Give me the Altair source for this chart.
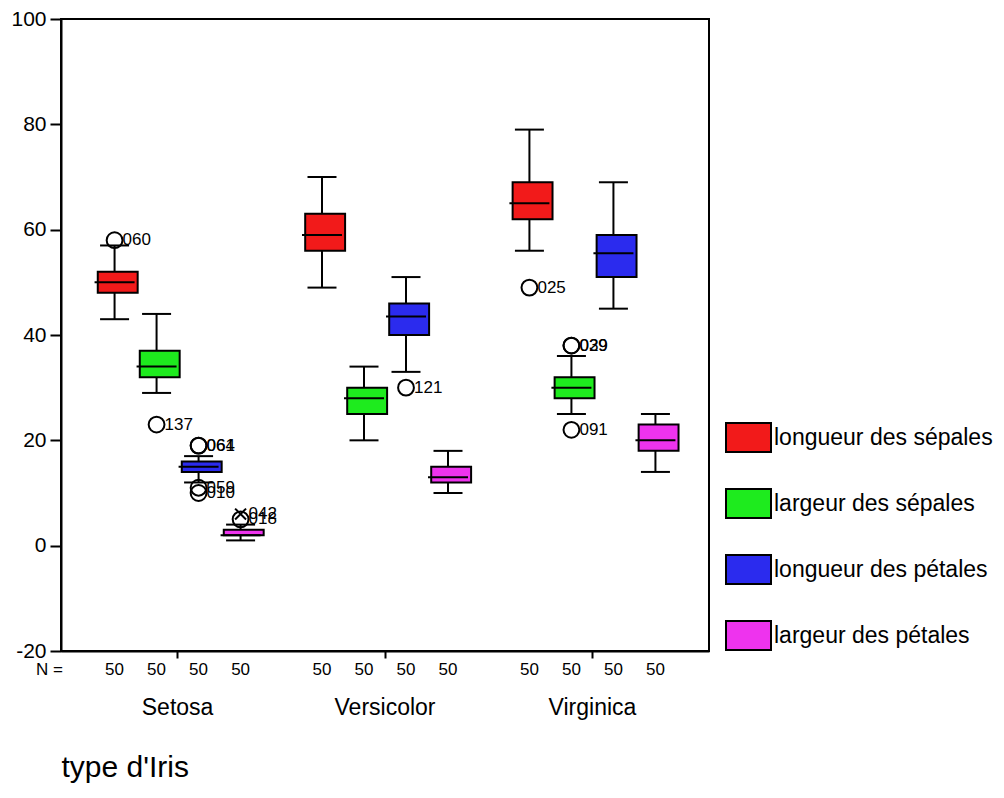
import altair as alt
import pandas as pd

# ---------------- data ----------------
species = ["Setosa", "Versicolor", "Virginica"]
variables = ["longueur des sépales", "largeur des sépales",
             "longueur des pétales", "largeur des pétales"]
colors = ["#F21A1A", "#1EEB1E", "#2B2BEE", "#EE33EE"]

lower_whisker = [[43, 29, 12, 1], [49, 20, 33, 10], [56, 25, 45, 14]]
q1_values = [[48, 32, 14, 2], [56, 25, 40, 12], [62, 28, 51, 18]]
medians = [[50, 34, 15, 2], [59, 28, 43.5, 13], [65, 30, 55.5, 20]]
q3_values = [[52, 37, 16, 3], [63, 30, 46, 15], [69, 32, 59, 23]]
upper_whisker = [[57, 44, 17, 4], [70, 34, 51, 18], [79, 36, 69, 25]]
counts = [[50, 50, 50, 50], [50, 50, 50, 50], [50, 50, 50, 50]]

out_species = ["Setosa", "Setosa", "Setosa", "Setosa", "Setosa", "Setosa",
               "Setosa", "Setosa", "Versicolor", "Virginica", "Virginica",
               "Virginica", "Virginica"]
out_variable = [0, 1, 2, 2, 2, 2, 3, 3, 2, 0, 1, 1, 1]
out_value = [58, 23, 19, 19, 11, 10, 5, 6, 30, 49, 38, 38, 22]
out_label = ["060", "137", "061", "064", "059", "010", "018", "042",
             "121", "025", "029", "039", "091"]
out_kind = ["o", "o", "o", "o", "o", "o", "o", "x", "o", "o", "o", "o", "o"]

FONT = "Liberation Sans"

# ---------------- tables ----------------
rows = []
for i, s in enumerate(species):
    for j, v in enumerate(variables):
        rows.append(dict(species=s, variable=v, lo=lower_whisker[i][j],
                         q1=q1_values[i][j], med=medians[i][j],
                         q3=q3_values[i][j], hi=upper_whisker[i][j],
                         n=str(counts[i][j])))
box_df = pd.DataFrame(rows)

out_df = pd.DataFrame(dict(species=out_species,
                           variable=[variables[k] for k in out_variable],
                           value=out_value, label=out_label, kind=out_kind))

W, H = 648, 632

x_enc = alt.X("species:N",
              scale=alt.Scale(domain=species, paddingInner=0.19, paddingOuter=0.157),
              axis=alt.Axis(labelAngle=0, tickSize=7, tickWidth=2, tickColor="black",
                            domainColor="black", domainWidth=2,
                            labelPadding=38, labelFontSize=23, labelFont=FONT,
                            labelColor="black",
                            titleFontSize=30, titleFont=FONT, titleFontWeight="normal",
                            titleColor="black", titleAnchor="start", titleAlign="left",
                            titlePadding=33),
              title="type d'Iris")
xo_enc = alt.XOffset("variable:N",
                     scale=alt.Scale(domain=variables, paddingInner=0, paddingOuter=0))
y_scale = alt.Scale(domain=[-20, 100], nice=False, zero=False)
y_axis = alt.Axis(values=[-20, 0, 20, 40, 60, 80, 100], grid=False,
                  tickSize=11, tickWidth=2, tickColor="black",
                  domainColor="black", domainWidth=2,
                  labelFontSize=21, labelFont=FONT, labelColor="black", labelPadding=4,
                  labelExpr="datum.value < 0 ? '-' + abs(datum.value) : '' + datum.value")

base = alt.Chart(box_df)

whiskers = base.mark_rule(color="black", strokeWidth=2).encode(
    x=x_enc, xOffset=xo_enc,
    y=alt.Y("lo:Q", scale=y_scale, axis=y_axis, title=None), y2="hi:Q")

boxes = base.mark_bar(stroke="black", strokeWidth=2,
                      width=alt.RelativeBandSize(0.95)).encode(
    x=x_enc, xOffset=xo_enc,
    y=alt.Y("q1:Q", scale=y_scale, axis=y_axis, title=None), y2="q3:Q",
    color=alt.Color("variable:N", scale=alt.Scale(domain=variables, range=colors),
                    legend=alt.Legend(title=None, orient="none", legendX=664, legendY=395,
                                      symbolType="M-1,-0.644L1,-0.644L1,0.644L-1,0.644Z",
                                      symbolSize=2025, symbolStrokeColor="black",
                                      symbolStrokeWidth=2, symbolOpacity=1,
                                      labelFontSize=23, labelFont=FONT, labelColor="black",
                                      labelOffset=2, labelLimit=500, rowPadding=24,
                                      padding=0)))

median_ticks = base.mark_tick(color="black", thickness=2, size=40, opacity=1).encode(
    x=x_enc, xOffset=xo_enc, y=alt.Y("med:Q", scale=y_scale, axis=y_axis, title=None))
low_caps = base.mark_tick(color="black", thickness=2, size=29, opacity=1).encode(
    x=x_enc, xOffset=xo_enc, y=alt.Y("lo:Q", scale=y_scale, axis=y_axis, title=None))
high_caps = base.mark_tick(color="black", thickness=2, size=29, opacity=1).encode(
    x=x_enc, xOffset=xo_enc, y=alt.Y("hi:Q", scale=y_scale, axis=y_axis, title=None))

n_labels = base.mark_text(fontSize=17, font=FONT, color="black", baseline="middle").encode(
    x=x_enc, xOffset=xo_enc, y=alt.value(H + 19), text="n:N")

n_head = alt.Chart(pd.DataFrame({"t": ["N ="]})).mark_text(
    fontSize=17, font=FONT, color="black", align="right", baseline="middle").encode(
    x=alt.value(2), y=alt.value(H + 19), text="t:N")

obase = alt.Chart(out_df)
circles = obase.transform_filter("datum.kind == 'o'").mark_point(
    shape="circle", filled=False, size=250, strokeWidth=2, color="black", opacity=1).encode(
    x=x_enc, xOffset=xo_enc, y=alt.Y("value:Q", scale=y_scale, axis=y_axis, title=None))
crosses = obase.transform_filter("datum.kind == 'x'").mark_point(
    shape="M-1,-1L1,1M-1,1L1,-1", filled=False, size=120, strokeWidth=2,
    color="black", opacity=1).encode(
    x=x_enc, xOffset=xo_enc, y=alt.Y("value:Q", scale=y_scale, axis=y_axis, title=None))
out_text = obase.mark_text(align="left", baseline="middle", dx=8, fontSize=17,
                           font=FONT, color="black").encode(
    x=x_enc, xOffset=xo_enc, y=alt.Y("value:Q", scale=y_scale, axis=y_axis, title=None),
    text="label:N")

chart = alt.layer(whiskers, boxes, median_ticks, low_caps, high_caps,
                  circles, crosses, out_text, n_labels, n_head).properties(
    width=W, height=H,
    padding={"left": 2, "top": 0, "right": 0, "bottom": 5},
    background="white",
).configure_view(stroke="black", strokeWidth=2)

chart.save("out.html", embed_options={"renderer": "svg", "actions": False})
